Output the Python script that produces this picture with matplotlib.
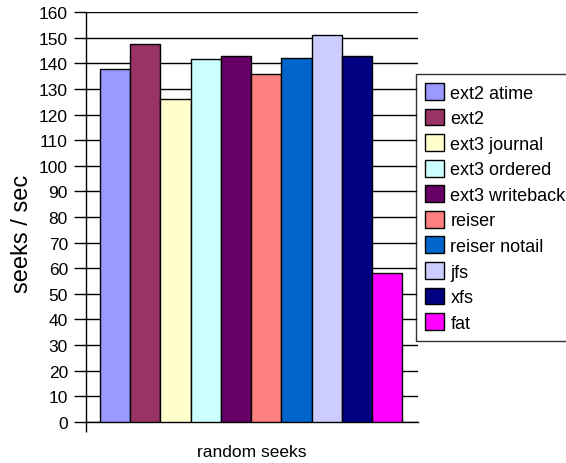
import matplotlib.pyplot as plt
import numpy as np

# Données : un seul groupe "random seeks"
systemes = ['ext2 atime', 'ext2', 'ext3 journal', 'ext3 ordered',
            'ext3 writeback', 'reiser', 'reiser notail', 'jfs', 'xfs', 'fat']
valeurs = [137.9, 147.8, 126.0, 141.8, 143.1, 135.8, 142.3, 151.3, 142.8, 58.1]
couleurs = ['#9999FF', '#993366', '#FFFFCC', '#CCFFFF', '#660066',
            '#FF8080', '#0066CC', '#CCCCFF', '#000080', '#FF00FF']
yticks = list(range(0, 161, 10))

plt.rcParams['font.family'] = ['Liberation Sans', 'DejaVu Sans']

fig = plt.figure(figsize=(5.66, 4.64), dpi=100)
ax = fig.add_axes([86 / 566, 1 - 422.7 / 464, 332 / 566, (422.7 - 13.3) / 464])

x = np.arange(len(valeurs))
barres = ax.bar(x, valeurs, width=1.0, color=couleurs, edgecolor='black',
                linewidth=1, zorder=3)

# grille horizontale façon Excel
ax.set_ylim(0, 160)
ax.set_yticks(yticks)
ax.yaxis.grid(True, color='black', linewidth=1, zorder=0)
ax.tick_params(axis='y', direction='out', length=9, width=1, labelsize=12.5,
               pad=4)

gauche = -0.5 - 0.463
ax.set_xlim(gauche, 9.5 + 0.519)
ax.set_xticks([gauche])
ax.set_xticklabels([''])
ax.tick_params(axis='x', direction='out', length=7.5, width=1)

for cote in ['top', 'right']:
    ax.spines[cote].set_visible(False)
ax.spines['left'].set_linewidth(1)
ax.spines['bottom'].set_linewidth(1)

ax.set_ylabel("seeks / sec", fontsize=17, va='center')
ax.yaxis.set_label_coords(-0.193, 0.461)
ax.set_xlabel("random seeks", fontsize=12.5, va='center')
ax.xaxis.set_label_coords(0.5, -0.074)

leg = fig.legend(barres, systemes, loc='upper left',
                 bbox_to_anchor=(416 / 566, 1 - 75 / 464),
                 fontsize=13, frameon=True, fancybox=False,
                 edgecolor='black', borderaxespad=0, borderpad=0.5,
                 handlelength=1.05, handleheight=1.05, handletextpad=0.35,
                 labelspacing=0.39)
leg.get_frame().set_linewidth(1)

fig.savefig('out.png', dpi=100)
